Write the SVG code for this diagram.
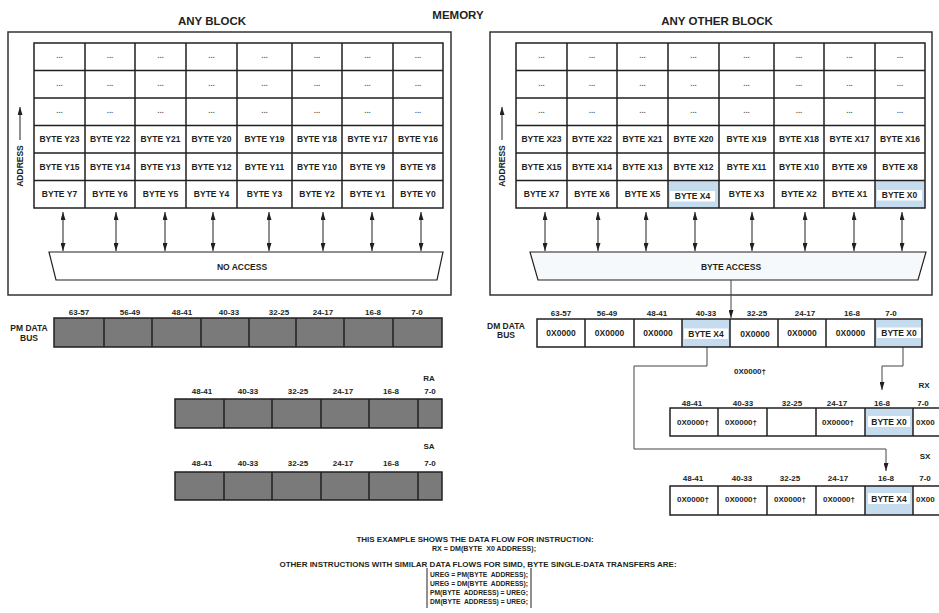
<svg xmlns="http://www.w3.org/2000/svg" width="939" height="613" viewBox="0 0 939 613">
<defs>
<marker id="ah" viewBox="0 0 8 5" refX="8" refY="2.5" markerWidth="8" markerHeight="5" markerUnits="userSpaceOnUse" orient="auto-start-reverse"><path d="M0,0 L8,2.5 L0,5 z" fill="#231f20"/></marker>
<style>
text{font-family:"Liberation Sans",Arial,Helvetica,sans-serif;font-weight:bold;fill:#231f20;text-anchor:middle}
.title{font-size:11.5px}
.c{font-size:8.5px}
.h{font-size:8px}
.d{font-size:8px;fill:#666}
.n{font-size:8px}
.ns{font-size:8px;text-anchor:start}
.blk{fill:#fff;stroke:#333;stroke-width:1.5}
.grid{fill:none;stroke:#231f20;stroke-width:1.5}
.bus{fill:#7a7a7a;stroke:#231f20;stroke-width:1.5}
.cell{fill:none;stroke:#231f20;stroke-width:1.5}
.blue{fill:#c5dcef}
.wb{fill:#fff}
.arr{stroke:#231f20;stroke-width:1}
.con{fill:none;stroke:#444;stroke-width:1}
</style>
</defs>

<text class="title" x="458" y="19">MEMORY</text>

<g id="any-block">
<text class="title" x="212" y="25">ANY BLOCK</text>
<rect class="blk" x="8" y="32" width="443" height="263"/>
<rect class="grid" x="34" y="43" width="409" height="165"/>
<path class="grid" d="M34,70.5H443M34,98H443M34,125.5H443M34,153H443M34,180.5H443M85,43V208M135,43V208M186,43V208M237,43V208M292,43V208M342,43V208M393,43V208"/>
<text class="d" x="59.5" y="58">...</text><text class="d" x="110" y="58">...</text><text class="d" x="160.5" y="58">...</text><text class="d" x="211.5" y="58">...</text><text class="d" x="264.5" y="58">...</text><text class="d" x="317" y="58">...</text><text class="d" x="367.5" y="58">...</text><text class="d" x="418" y="58">...</text>
<text class="d" x="59.5" y="85.5">...</text><text class="d" x="110" y="85.5">...</text><text class="d" x="160.5" y="85.5">...</text><text class="d" x="211.5" y="85.5">...</text><text class="d" x="264.5" y="85.5">...</text><text class="d" x="317" y="85.5">...</text><text class="d" x="367.5" y="85.5">...</text><text class="d" x="418" y="85.5">...</text>
<text class="d" x="59.5" y="113">...</text><text class="d" x="110" y="113">...</text><text class="d" x="160.5" y="113">...</text><text class="d" x="211.5" y="113">...</text><text class="d" x="264.5" y="113">...</text><text class="d" x="317" y="113">...</text><text class="d" x="367.5" y="113">...</text><text class="d" x="418" y="113">...</text>
<text class="c" x="59.5" y="142.3">BYTE Y23</text><text class="c" x="110" y="142.3">BYTE Y22</text><text class="c" x="160.5" y="142.3">BYTE Y21</text><text class="c" x="211.5" y="142.3">BYTE Y20</text><text class="c" x="264.5" y="142.3">BYTE Y19</text><text class="c" x="317" y="142.3">BYTE Y18</text><text class="c" x="367.5" y="142.3">BYTE Y17</text><text class="c" x="418" y="142.3">BYTE Y16</text>
<text class="c" x="59.5" y="169.8">BYTE Y15</text><text class="c" x="110" y="169.8">BYTE Y14</text><text class="c" x="160.5" y="169.8">BYTE Y13</text><text class="c" x="211.5" y="169.8">BYTE Y12</text><text class="c" x="264.5" y="169.8">BYTE Y11</text><text class="c" x="317" y="169.8">BYTE Y10</text><text class="c" x="367.5" y="169.8">BYTE Y9</text><text class="c" x="418" y="169.8">BYTE Y8</text>
<text class="c" x="59.5" y="197.3">BYTE Y7</text><text class="c" x="110" y="197.3">BYTE Y6</text><text class="c" x="160.5" y="197.3">BYTE Y5</text><text class="c" x="211.5" y="197.3">BYTE Y4</text><text class="c" x="264.5" y="197.3">BYTE Y3</text><text class="c" x="317" y="197.3">BYTE Y2</text><text class="c" x="367.5" y="197.3">BYTE Y1</text><text class="c" x="418" y="197.3">BYTE Y0</text>
<line class="arr" x1="20" y1="140" x2="20" y2="107" marker-end="url(#ah)"/>
<text class="c" transform="translate(23,166) rotate(-90)">ADDRESS</text>
<polygon points="49,252 443,252 437,280 56,280" fill="#fff" stroke="#231f20" stroke-width="1.2"/>
<text class="c" x="242" y="270">NO ACCESS</text>
</g>

<g id="any-other-block">
<text class="title" x="717" y="25">ANY OTHER BLOCK</text>
<rect class="blk" x="490" y="32" width="442" height="263"/>
<rect class="blue" x="668" y="180.5" width="51" height="27.5"/>
<rect class="blue" x="875" y="180.5" width="50" height="27.5"/>
<rect class="wb" x="670" y="191" width="45" height="10.5"/>
<rect class="wb" x="877" y="190" width="45" height="10.5"/>
<rect class="grid" x="516" y="43" width="409" height="165"/>
<path class="grid" d="M516,70.5H925M516,98H925M516,125.5H925M516,153H925M516,180.5H925M567,43V208M617,43V208M668,43V208M719,43V208M774,43V208M824,43V208M875,43V208"/>
<text class="d" x="541.5" y="58">...</text><text class="d" x="592" y="58">...</text><text class="d" x="642.5" y="58">...</text><text class="d" x="693.5" y="58">...</text><text class="d" x="746.5" y="58">...</text><text class="d" x="799" y="58">...</text><text class="d" x="849.5" y="58">...</text><text class="d" x="900" y="58">...</text>
<text class="d" x="541.5" y="85.5">...</text><text class="d" x="592" y="85.5">...</text><text class="d" x="642.5" y="85.5">...</text><text class="d" x="693.5" y="85.5">...</text><text class="d" x="746.5" y="85.5">...</text><text class="d" x="799" y="85.5">...</text><text class="d" x="849.5" y="85.5">...</text><text class="d" x="900" y="85.5">...</text>
<text class="d" x="541.5" y="113">...</text><text class="d" x="592" y="113">...</text><text class="d" x="642.5" y="113">...</text><text class="d" x="693.5" y="113">...</text><text class="d" x="746.5" y="113">...</text><text class="d" x="799" y="113">...</text><text class="d" x="849.5" y="113">...</text><text class="d" x="900" y="113">...</text>
<text class="c" x="541.5" y="142.3">BYTE X23</text><text class="c" x="592" y="142.3">BYTE X22</text><text class="c" x="642.5" y="142.3">BYTE X21</text><text class="c" x="693.5" y="142.3">BYTE X20</text><text class="c" x="746.5" y="142.3">BYTE X19</text><text class="c" x="799" y="142.3">BYTE X18</text><text class="c" x="849.5" y="142.3">BYTE X17</text><text class="c" x="900" y="141.5">BYTE X16</text>
<text class="c" x="541.5" y="169.8">BYTE X15</text><text class="c" x="592" y="169.8">BYTE X14</text><text class="c" x="642.5" y="169.8">BYTE X13</text><text class="c" x="693.5" y="169.8">BYTE X12</text><text class="c" x="746.5" y="169.8">BYTE X11</text><text class="c" x="799" y="169.8">BYTE X10</text><text class="c" x="849.5" y="169.8">BYTE X9</text><text class="c" x="900" y="169.8">BYTE X8</text>
<text class="c" x="541.5" y="197.3">BYTE X7</text><text class="c" x="592" y="197.3">BYTE X6</text><text class="c" x="642.5" y="197.3">BYTE X5</text><text class="c" x="692.5" y="199">BYTE X4</text><text class="c" x="746.5" y="197.3">BYTE X3</text><text class="c" x="799" y="197.3">BYTE X2</text><text class="c" x="849.5" y="197.3">BYTE X1</text><text class="c" x="899.5" y="198">BYTE X0</text>
<line class="arr" x1="502" y1="140" x2="502" y2="107" marker-end="url(#ah)"/>
<text class="c" transform="translate(505,166) rotate(-90)">ADDRESS</text>
<polygon points="530,252 926,252 918,280 538,280" fill="#f5f9fc" stroke="#231f20" stroke-width="1.2"/>
<text class="c" x="731" y="270">BYTE ACCESS</text>
</g>

<g id="connectors">
<line class="arr" x1="63" y1="212" x2="63" y2="251" marker-start="url(#ah)" marker-end="url(#ah)"/>
<line class="arr" x1="116" y1="212" x2="116" y2="251" marker-start="url(#ah)" marker-end="url(#ah)"/>
<line class="arr" x1="165" y1="212" x2="165" y2="251" marker-start="url(#ah)" marker-end="url(#ah)"/>
<line class="arr" x1="213" y1="212" x2="213" y2="251" marker-start="url(#ah)" marker-end="url(#ah)"/>
<line class="arr" x1="269" y1="212" x2="269" y2="251" marker-start="url(#ah)" marker-end="url(#ah)"/>
<line class="arr" x1="323" y1="212" x2="323" y2="251" marker-start="url(#ah)" marker-end="url(#ah)"/>
<line class="arr" x1="372" y1="212" x2="372" y2="251" marker-start="url(#ah)" marker-end="url(#ah)"/>
<line class="arr" x1="421" y1="212" x2="421" y2="251" marker-start="url(#ah)" marker-end="url(#ah)"/>
<line class="arr" x1="545" y1="212" x2="545" y2="251" marker-start="url(#ah)" marker-end="url(#ah)"/>
<line class="arr" x1="598" y1="212" x2="598" y2="251" marker-start="url(#ah)" marker-end="url(#ah)"/>
<line class="arr" x1="646" y1="212" x2="646" y2="251" marker-start="url(#ah)" marker-end="url(#ah)"/>
<line class="arr" x1="695" y1="212" x2="695" y2="251" marker-start="url(#ah)" marker-end="url(#ah)"/>
<line class="arr" x1="752" y1="212" x2="752" y2="251" marker-start="url(#ah)" marker-end="url(#ah)"/>
<line class="arr" x1="805" y1="212" x2="805" y2="251" marker-start="url(#ah)" marker-end="url(#ah)"/>
<line class="arr" x1="854" y1="212" x2="854" y2="251" marker-start="url(#ah)" marker-end="url(#ah)"/>
<line class="arr" x1="902" y1="212" x2="902" y2="251" marker-start="url(#ah)" marker-end="url(#ah)"/>
<path class="con" d="M731,280V318" marker-end="url(#ah)"/>
<path class="con" d="M707,347V366H634V449H886V471" marker-end="url(#ah)"/>
<path class="con" d="M903,347V366H882V390" marker-end="url(#ah)"/>
</g>

<g id="pm-data-bus">
<text class="c" x="29" y="331">PM DATA</text>
<text class="c" x="29" y="341">BUS</text>
<text class="h" x="79" y="315">63-57</text><text class="h" x="130" y="315">56-49</text><text class="h" x="182" y="315">48-41</text><text class="h" x="229" y="315">40-33</text><text class="h" x="279" y="315">32-25</text><text class="h" x="323" y="315">24-17</text><text class="h" x="373" y="315">16-8</text><text class="h" x="417" y="315">7-0</text>
<rect class="bus" x="54" y="318" width="388" height="29"/>
<path class="cell" d="M104,318V347M152,318V347M201,318V347M249,318V347M296,318V347M344,318V347M393,318V347"/>
</g>

<g id="ra">
<text class="h" x="429" y="381">RA</text>
<text class="h" x="202" y="394">48-41</text><text class="h" x="248" y="394">40-33</text><text class="h" x="298" y="394">32-25</text><text class="h" x="343" y="394">24-17</text><text class="h" x="391" y="394">16-8</text><text class="h" x="430" y="394">7-0</text>
<rect class="bus" x="175" y="399" width="267" height="29"/>
<path class="cell" d="M224,399V428M272,399V428M321,399V428M369,399V428M418,399V428"/>
</g>

<g id="sa">
<text class="h" x="429" y="449">SA</text>
<text class="h" x="202" y="466">48-41</text><text class="h" x="248" y="466">40-33</text><text class="h" x="298" y="466">32-25</text><text class="h" x="343" y="466">24-17</text><text class="h" x="391" y="466">16-8</text><text class="h" x="430" y="466">7-0</text>
<rect class="bus" x="175" y="472" width="267" height="28"/>
<path class="cell" d="M224,472V500M272,472V500M321,472V500M369,472V500M418,472V500"/>
</g>

<g id="dm-data-bus">
<text class="c" x="506" y="329">DM DATA</text>
<text class="c" x="506" y="338">BUS</text>
<text class="h" x="561" y="316">63-57</text><text class="h" x="607" y="316">56-49</text><text class="h" x="657" y="316">48-41</text><text class="h" x="706" y="316">40-33</text><text class="h" x="757" y="316">32-25</text><text class="h" x="805" y="316">24-17</text><text class="h" x="852" y="316">16-8</text><text class="h" x="891" y="316">7-0</text>
<rect class="blue" x="682" y="319" width="48" height="28"/>
<rect class="blue" x="875" y="319" width="47" height="28"/>
<rect class="wb" x="684" y="328.5" width="44" height="10.5"/>
<rect class="wb" x="877" y="327.5" width="44" height="10.5"/>
<rect class="cell" x="537" y="319" width="385" height="28"/>
<path class="cell" d="M585,319V347M634,319V347M682,319V347M730,319V347M778,319V347M826,319V347M875,319V347"/>
<text class="c" x="561" y="336">0X0000</text><text class="c" x="609.5" y="336">0X0000</text><text class="c" x="658" y="336">0X0000</text><text class="c" x="706" y="337">BYTE X4</text><text class="c" x="755" y="337">0X0000</text><text class="c" x="802" y="336">0X0000</text><text class="c" x="850.5" y="336">0X0000</text><text class="c" x="899" y="336">BYTE X0</text>
<text class="h" x="750" y="374">0X0000†</text>
</g>

<g id="rx">
<text class="h" x="924" y="388">RX</text>
<text class="h" x="692" y="406">48-41</text><text class="h" x="743" y="406">40-33</text><text class="h" x="792" y="406">32-25</text><text class="h" x="837" y="406">24-17</text><text class="h" x="882" y="406">16-8</text><text class="h" x="923" y="406">7-0</text>
<rect class="blue" x="865" y="408" width="48" height="28"/>
<rect class="wb" x="868" y="416" width="42" height="11"/>
<rect class="cell" x="670" y="408" width="280" height="28"/>
<path class="cell" d="M718,408V436M767,408V436M816,408V436M865,408V436M913,408V436"/>
<text class="h" x="693" y="425">0X0000†</text><text class="h" x="741" y="425">0X0000†</text><text class="h" x="838" y="425">0X0000†</text><text class="c" x="889" y="425">BYTE X0</text><text class="h" x="916" y="425" style="text-anchor:start">0X00</text>
</g>

<g id="sx">
<text class="h" x="925" y="459">SX</text>
<text class="h" x="693" y="481">48-41</text><text class="h" x="742" y="481">40-33</text><text class="h" x="790" y="481">32-25</text><text class="h" x="838" y="481">24-17</text><text class="h" x="886" y="481">16-8</text><text class="h" x="925" y="481">7-0</text>
<rect class="blue" x="865" y="486" width="48" height="29"/>
<rect class="wb" x="868" y="493" width="42" height="11"/>
<rect class="cell" x="670" y="486" width="280" height="29"/>
<path class="cell" d="M718,486V515M767,486V515M816,486V515M865,486V515M913,486V515"/>
<text class="h" x="693" y="502">0X0000†</text><text class="h" x="741" y="502">0X0000†</text><text class="h" x="790" y="502">0X0000†</text><text class="h" x="839" y="502">0X0000†</text><text class="c" x="889" y="502">BYTE X4</text><text class="h" x="916" y="502" style="text-anchor:start">0X00</text>
</g>

<g id="notes">
<text class="n" x="475" y="542">THIS EXAMPLE SHOWS THE DATA FLOW FOR INSTRUCTION:</text>
<text class="n" x="484" y="551" xml:space="preserve" textLength="104" lengthAdjust="spacingAndGlyphs">RX = DM(BYTE  X0 ADDRESS);</text>
<text class="n" x="478" y="567">OTHER INSTRUCTIONS WITH SIMILAR DATA FLOWS FOR SIMD, BYTE SINGLE-DATA TRANSFERS ARE:</text>
<path d="M427,568V608M531,568V608" stroke="#231f20" stroke-width="1" fill="none"/>
<text class="ns" x="430" y="577" xml:space="preserve" textLength="98" lengthAdjust="spacingAndGlyphs">UREG = PM(BYTE  ADDRESS);</text>
<text class="ns" x="430" y="586" xml:space="preserve" textLength="98" lengthAdjust="spacingAndGlyphs">UREG = DM(BYTE  ADDRESS);</text>
<text class="ns" x="430" y="595" xml:space="preserve" textLength="98" lengthAdjust="spacingAndGlyphs">PM(BYTE  ADDRESS) = UREG;</text>
<text class="ns" x="430" y="604" xml:space="preserve" textLength="98" lengthAdjust="spacingAndGlyphs">DM(BYTE  ADDRESS) = UREG;</text>
</g>
</svg>
